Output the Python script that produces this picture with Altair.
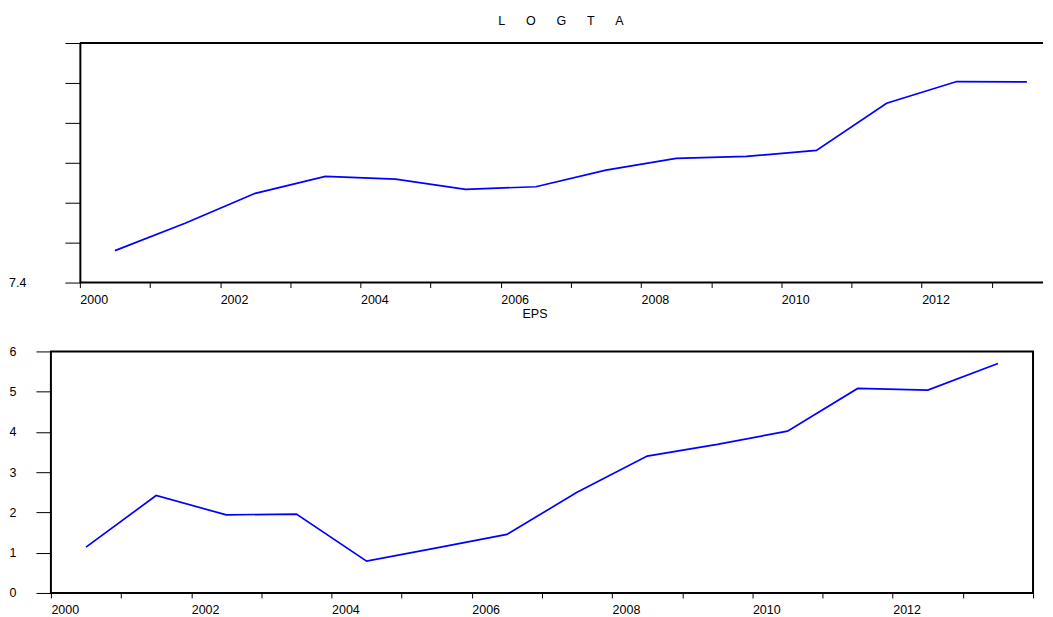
import altair as alt
import pandas as pd

# ---- data ----
year_mid = [2000.5, 2001.5, 2002.5, 2003.5, 2004.5, 2005.5, 2006.5,
            2007.5, 2008.5, 2009.5, 2010.5, 2011.5, 2012.5, 2013.5]
logta = [7.560, 7.697, 7.847, 7.932, 7.918, 7.867, 7.880,
         7.963, 8.022, 8.032, 8.062, 8.298, 8.407, 8.405]
eps = [1.14, 2.42, 1.94, 1.96, 0.79, 1.12, 1.455,
       2.50, 3.40, 3.69, 4.02, 5.08, 5.04, 5.70]

year_ticks = [2000, 2001, 2002, 2003, 2004, 2005, 2006, 2007,
              2008, 2009, 2010, 2011, 2012, 2013, 2014]
logta_ticks = [7.4, 7.6, 7.8, 8.0, 8.2, 8.4, 8.6]
eps_ticks = [0, 1, 2, 3, 4, 5, 6]
frame_logta = [7.4, 8.6]

top_title = "\u00a0\u00a0\u00a0\u00a0\u00a0\u00a0".join(list("LOGTA"))
bottom_title = "EPS"

# ---- layout constants ----
FONT = "Liberation Sans"
FS = 12.5
PX_PER_YEAR = 984 / 14
TOP_SHIFT = 29
top_width = 994
top_x0 = 2000 - TOP_SHIFT / PX_PER_YEAR
top_x1 = top_x0 + top_width / PX_PER_YEAR

df_top = pd.DataFrame({"year": year_mid, "value": logta})
df_bot = pd.DataFrame({"year": year_mid, "value": eps})
df_frame = pd.DataFrame({"y": frame_logta})

year_label_expr = ("datum.value % 2 == 0 && datum.value <= 2012 ? "
                   "format(datum.value, 'd') : ''")

# ---- top panel ----
xs_top = alt.Scale(domain=[top_x0, top_x1], nice=False, zero=False)
ys_top = alt.Scale(domain=[7.4, 8.6], nice=False, zero=False)

x_axis_top = alt.Axis(values=year_ticks, labelExpr=year_label_expr,
                      domain=False, grid=False, tickSize=5, tickColor="black",
                      labelAlign="left", labelPadding=6, labelFontSize=FS,
                      labelFont=FONT, labelColor="black")
y_axis_top = alt.Axis(values=logta_ticks,
                      labelExpr="datum.value < 7.45 ? '7.4' : ''",
                      offset=-TOP_SHIFT, tickSize=15, labelPadding=39,
                      domain=True, domainColor="black", domainWidth=2,
                      tickColor="black", grid=False, labelFontSize=FS,
                      labelFont=FONT, labelColor="black")

top_line = alt.Chart(df_top).mark_line(color="#0000FF", strokeWidth=1.7).encode(
    x=alt.X("year:Q", scale=xs_top, title=None, axis=x_axis_top),
    y=alt.Y("value:Q", scale=ys_top, title=None, axis=y_axis_top),
)

top_frame = alt.Chart(df_frame).mark_rule(color="black", strokeWidth=2).encode(
    y=alt.Y("y:Q", scale=ys_top, title=None, axis=y_axis_top),
    x=alt.datum(2000),
    x2=alt.datum(top_x1),
)

top = alt.layer(top_line, top_frame).properties(
    width=top_width, height=240,
    view=alt.ViewBackground(stroke="transparent"),
    title=alt.TitleParams(top_title, fontSize=FS, font=FONT, fontWeight="normal",
                          color="black", anchor="middle", offset=15, dx=14),
)

# ---- bottom panel ----
xs_bot = alt.Scale(domain=[2000, 2014], nice=False, zero=False)
ys_bot = alt.Scale(domain=[0, 6], nice=False, zero=False)

bottom = alt.Chart(df_bot).mark_line(color="#0000FF", strokeWidth=1.7).encode(
    x=alt.X("year:Q", scale=xs_bot, title=None,
            axis=alt.Axis(values=year_ticks, labelExpr=year_label_expr,
                          domain=False, grid=False, tickSize=5, tickColor="black",
                          labelAlign="left", labelPadding=6, labelFontSize=FS,
                          labelFont=FONT, labelColor="black")),
    y=alt.Y("value:Q", scale=ys_bot, title=None,
            axis=alt.Axis(values=eps_ticks, format="d", tickSize=15,
                          labelPadding=20, domain=False, tickColor="black",
                          grid=False, labelFontSize=FS, labelFont=FONT,
                          labelColor="black")),
).properties(
    width=984, height=242,
    view=alt.ViewBackground(stroke="black", strokeWidth=2),
    title=alt.TitleParams(bottom_title, fontSize=FS, font=FONT, fontWeight="normal",
                          color="black", anchor="middle", offset=25, dx=-7),
)

chart = alt.vconcat(top, bottom, spacing=69, bounds="flush").properties(
    padding={"left": 0, "top": 5.5, "right": 0, "bottom": 0},
    background="white",
)

chart.save("out.html", embed_options={"renderer": "svg", "actions": False})
